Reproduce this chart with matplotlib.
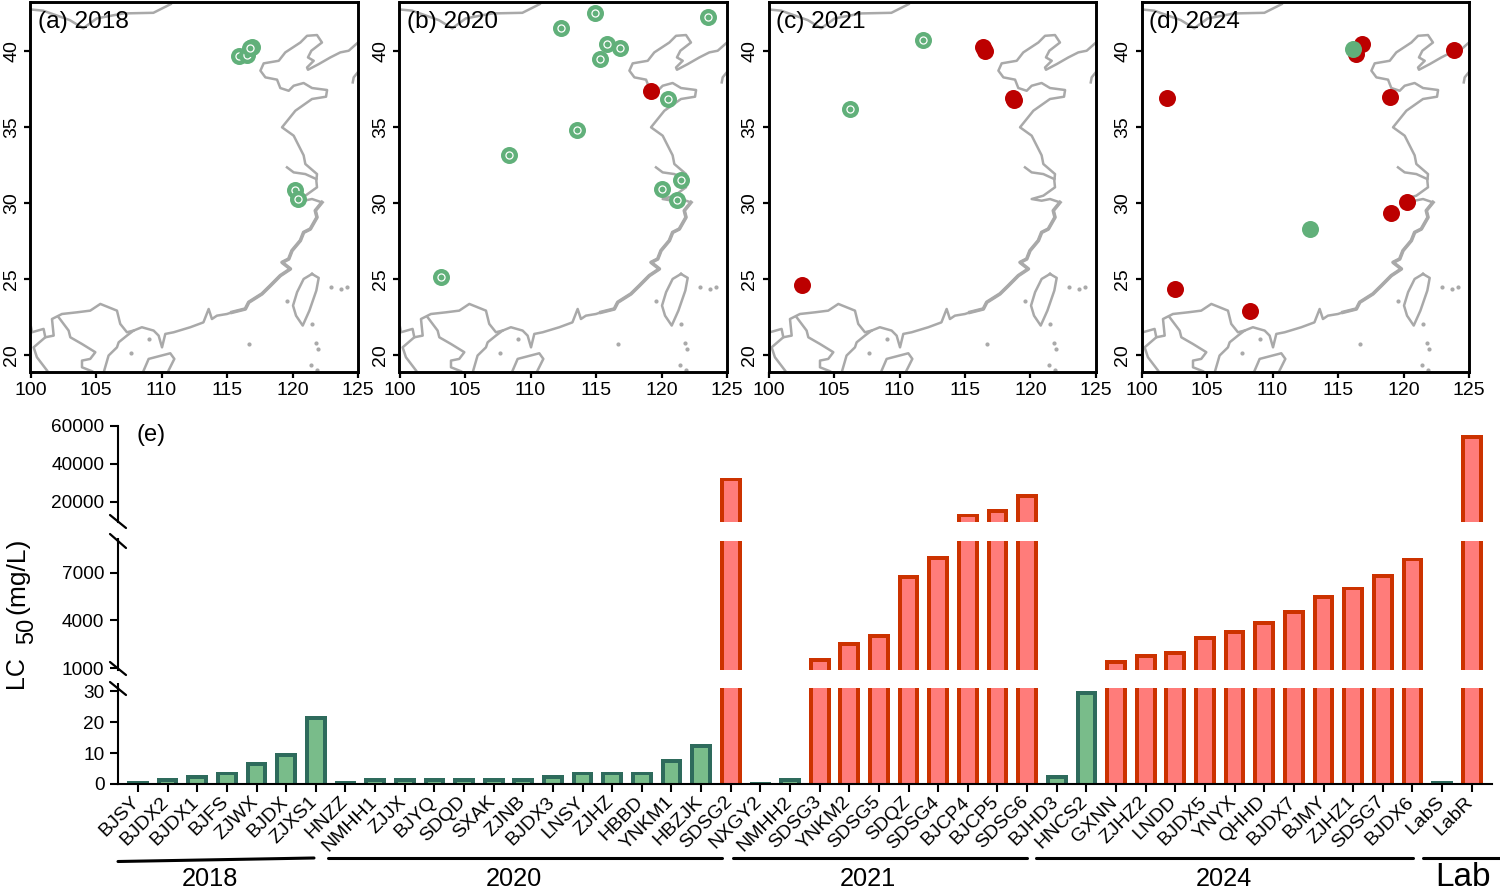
import matplotlib
matplotlib.use("Agg")
import matplotlib.pyplot as plt
from matplotlib.lines import Line2D
from matplotlib.transforms import ScaledTranslation

plt.rcParams['font.family'] = ['Liberation Sans', 'DejaVu Sans']

W = 1500
H = 889

###################################
# map data, lon / lat
###################################
coast_lon = [125.0, 124.29, 123.65, 122.89, 122.0, 121.18, 121.11, 121.62, 121.18, 121.44, 122.25, 121.87,
             121.11, 120.6, 119.45, 118.95, 117.8, 117.55, 117.93, 118.82, 119.07, 119.71, 120.09, 120.85,
             121.49, 122.64, 122.56, 121.49, 120.22, 119.2, 120.09, 120.85, 120.98, 121.87, 121.82, 121.87,
             120.98, 120.09, 120.85, 121.49, 122.25, 121.74, 121.87, 121.36, 120.85, 120.6, 119.96, 119.71,
             119.2, 119.84, 119.07, 118.31, 117.67, 116.66, 116.4, 115.38, 115.0, 114.23, 113.85, 113.6,
             113.2, 112.2, 110.93, 110.29, 110.04, 109.78, 109.4, 108.5, 107.87, 107.36, 106.73, 106.6,
             105.96, 105.63]
coast_lat = [40.54, 40.0, 39.89, 39.56, 39.12, 38.75, 38.9, 39.34, 39.56, 40.0, 40.54, 41.03,
             40.98, 40.54, 39.89, 39.34, 39.17, 38.69, 38.25, 38.1, 37.55, 37.37, 37.7, 37.88,
             37.55, 37.42, 36.98, 36.83, 36.06, 34.97, 34.42, 33.13, 32.56, 31.9, 31.46, 31.03,
             30.48, 30.26, 30.15, 30.26, 30.04, 29.5, 29.06, 28.29, 28.07, 27.53, 26.87, 26.32,
             26.1, 25.67, 25.23, 24.57, 24.03, 23.48, 23.04, 22.82, 22.71, 22.6, 22.38, 23.04,
             22.16, 21.84, 21.51, 21.4, 20.52, 21.29, 21.62, 21.84, 21.62, 21.29, 20.85, 20.52,
             19.98, 19.0]
# the rough stretch of coast, Zhejiang down to Guangdong
rough_lon = [122.25, 121.74, 121.87, 121.36, 120.85, 120.6, 119.96, 119.71, 119.2, 119.84, 119.07, 118.31, 117.67, 116.66, 116.4, 115.38]
rough_lat = [30.04, 29.5, 29.06, 28.29, 28.07, 27.53, 26.87, 26.32, 26.1, 25.67, 25.23, 24.57, 24.03, 23.48, 23.04, 22.82]
yangtze_lon = [119.58, 120.09, 120.98, 121.82]
yangtze_lat = [32.34, 32.01, 31.9, 31.57]
taiwan_lon = [121.49, 122.0, 121.82, 121.29, 120.78, 120.27, 120.04, 120.35, 120.85, 121.49]
taiwan_lat = [25.34, 25.08, 24.25, 22.93, 21.95, 22.6, 23.26, 24.14, 25.01, 25.34]
hainan_lon = [108.64, 109.02, 110.67, 110.98, 110.54]
hainan_lat = [19.0, 19.76, 20.13, 19.76, 19.0]
korea_lon = [125.0, 124.67, 124.6]
korea_lat = [38.6, 38.25, 37.92]
north_lon = [100.0, 100.97, 103.0, 104.03, 105.05, 107.08, 109.38, 110.7]
north_lat = [42.71, 42.63, 42.01, 41.47, 42.12, 42.45, 42.49, 43.06]
border_lon = [107.87, 107.36, 106.85, 106.6, 105.33, 104.56, 103.55, 102.4, 101.64, 101.77, 101.13, 101.0, 100.11, 100.04]
border_lat = [21.62, 21.51, 22.06, 22.93, 23.37, 22.93, 22.82, 22.71, 22.38, 21.29, 21.18, 21.73, 21.51, 21.84]
laos_lon = [101.13, 100.24, 100.49, 101.26]
laos_lat = [21.18, 20.52, 19.87, 19.0]
viet_lon = [102.15, 102.91, 103.04, 103.93, 104.95, 104.56, 103.93, 103.93, 104.69]
viet_lat = [22.49, 21.62, 21.18, 20.74, 20.2, 19.76, 19.65, 19.21, 18.95]
island_lon = [119.58, 122.94, 123.7, 124.16, 121.49, 116.7, 121.82, 121.95, 121.44, 121.87, 109.07, 107.7]
island_lat = [23.59, 24.49, 24.35, 24.47, 22.06, 20.75, 20.79, 20.44, 19.37, 19.0, 21.05, 20.15]

# sampling sites per year
a_green_lon = [115.95, 116.5, 116.9, 116.77, 120.2, 120.4]
a_green_lat = [39.65, 39.7, 40.26, 40.15, 30.85, 30.26]
a_red_lon = []
a_red_lat = []
b_green_lon = [114.93, 112.34, 123.56, 115.82, 116.87, 115.29, 120.5, 113.56, 108.34, 121.5, 120.0, 121.17, 103.13]
b_green_lat = [42.47, 41.51, 42.19, 40.46, 40.18, 39.47, 36.8, 34.79, 33.15, 31.51, 30.92, 30.2, 25.11]
b_red_lon = [119.18]
b_red_lat = [37.33]
c_green_lon = [111.8, 106.22]
c_green_lat = [40.72, 36.19]
c_red_lon = [116.35, 116.53, 118.65, 118.75, 102.56]
c_red_lat = [40.22, 40.0, 36.9, 36.78, 24.64]
d_red_lon = [101.96, 116.84, 116.41, 123.87, 118.98, 120.28, 119.08, 102.54, 108.27]
d_red_lat = [36.91, 40.44, 39.78, 40.04, 36.98, 30.04, 29.36, 24.33, 22.88]
d_green_lon = [116.15, 112.85]
d_green_lat = [40.11, 28.27]

###################################
# bar data
###################################
strains = ['BJSY', 'BJDX2', 'BJDX1', 'BJFS', 'ZJWX', 'BJDX', 'ZJXS1',
           'HNZZ', 'NMHH1', 'ZJJX', 'BJYQ', 'SDQD', 'SXAK', 'ZJNB', 'BJDX3', 'LNSY', 'ZJHZ', 'HBBD', 'YNKM1', 'HBZJK', 'SDSG2',
           'NXGY2', 'NMHH2', 'SDSG3', 'YNKM2', 'SDSG5', 'SDQZ', 'SDSG4', 'BJCP4', 'BJCP5', 'SDSG6',
           'BJHD3', 'HNCS2', 'GXNN', 'ZJHZ2', 'LNDD', 'BJDX5', 'YNYX', 'QHHD', 'BJDX7', 'BJMY', 'ZJHZ1', 'SDSG7', 'BJDX6',
           'LabS', 'LabR']
lc50 = [1, 2, 3, 4, 7, 10, 22,
        1, 2, 2, 2, 2, 2, 2, 3, 4, 4, 4, 8, 13, 32760,
        0.5, 2, 1610, 2660, 3120, 6880, 8050, 13860, 16330, 24040,
        3, 30, 1500, 1900, 2050, 3000, 3370, 3960, 4630, 5580, 6140, 6940, 7970,
        1, 55170]
resistant_cut = 1000

GREEN_MAP = '#61B07A'
RED_MAP = '#BC0000'
GREY = '#A9A9A9'
GREEN_FILL = '#79BC8A'
GREEN_EDGE = '#2E6B5C'
RED_FILL = '#FF7C7A'
RED_EDGE = '#CC3200'


def add_axes_px(left, top, right, bottom):
    return fig.add_axes([left / W, 1 - bottom / H, (right - left) / W, (bottom - top) / H])


def fig_line(x0, y0, x1, y1, lw=2.0, color='black', cap='round'):
    fig.add_artist(Line2D([x0 / W, x1 / W], [1 - y0 / H, 1 - y1 / H], color=color, lw=lw,
                          solid_capstyle=cap, transform=fig.transFigure))


def fig_text(x, y, s, **kw):
    fig.text(x / W, 1 - y / H, s, ha='center', va='center', **kw)


def make_map(left, title, green_lon, green_lat, red_lon, red_lat, ring=True, red_first=False):
    ax = add_axes_px(left, 2, left + 327.5, 372)
    ax.set_xlim(100, 125)
    ax.set_ylim(18.9, 43.2)
    for xs, ys in [(coast_lon, coast_lat), (yangtze_lon, yangtze_lat), (taiwan_lon, taiwan_lat),
                   (hainan_lon, hainan_lat), (korea_lon, korea_lat), (north_lon, north_lat),
                   (border_lon, border_lat), (laos_lon, laos_lat), (viet_lon, viet_lat)]:
        ax.plot(xs, ys, color=GREY, lw=1.8, solid_joinstyle='round', zorder=1)
    ax.plot(rough_lon, rough_lat, color=GREY, lw=2.6, solid_joinstyle='round', zorder=1)
    ax.plot(island_lon, island_lat, ls='none', marker='o', ms=2, color=GREY, zorder=1)

    green_z = 4 if red_first else 2
    for lon, lat in zip(green_lon, green_lat):
        ax.scatter(lon, lat, s=150, color=GREEN_MAP, linewidths=0, zorder=green_z)
        if ring:
            ax.scatter(lon, lat, s=26, color=GREEN_MAP, edgecolors='white', linewidths=0.9, zorder=green_z)
    ax.scatter(red_lon, red_lat, s=150, color=RED_MAP, linewidths=0, zorder=3)

    ax.set_xticks([100, 105, 110, 115, 120, 125])
    ax.set_yticks([20, 25, 30, 35, 40])
    ax.tick_params(axis='x', labelsize=14, length=4.5, width=1.6, pad=3)
    ax.tick_params(axis='y', labelsize=14, length=4.5, width=1.6, pad=3, labelrotation=90)
    for lab in ax.get_yticklabels():
        lab.set_va('center')
    for sp in ax.spines.values():
        sp.set_linewidth(2.1)
    ax.text(0.024, 0.946, title, transform=ax.transAxes, fontsize=17.6, ha='left', va='center', zorder=5)
    return ax


fig = plt.figure(figsize=(W / 100, H / 100), dpi=100)

make_map(30.5, '(a) 2018', a_green_lon, a_green_lat, a_red_lon, a_red_lat)
make_map(399.5, '(b) 2020', b_green_lon, b_green_lat, b_red_lon, b_red_lat)
make_map(768.5, '(c) 2021', c_green_lon, c_green_lat, c_red_lon, c_red_lat)
make_map(1141.5, '(d) 2024', d_green_lon, d_green_lat, d_red_lon, d_red_lat, ring=False, red_first=True)

###############################
# broken bar panel
###############################
AX_L = 118
AX_R = 1492
SPACING = (1471.7 - 138) / 45
xlim = (-(138 - AX_L) / SPACING, 45 + (AX_R - 1471.7) / SPACING)
positions = list(range(len(strains)))

ax_low = add_axes_px(AX_L, 688, AX_R, 784)
ax_mid = add_axes_px(AX_L, 541, AX_R, 669.7)
ax_top = add_axes_px(AX_L, 425.7, AX_R, 521.7)
ax_low.set_ylim(0, 31)
ax_mid.set_ylim(893, 9015)
ax_top.set_ylim(9660, 60000)

outer_w = 21.7 / SPACING
inner_w = 13.7 / SPACING
for ax, bottom_px, top_px in [(ax_low, 784, 688), (ax_mid, 669.7, 541), (ax_top, 521.7, 425.7)]:
    ax.set_xlim(*xlim)
    ax.patch.set_alpha(0)
    lo, hi = ax.get_ylim()
    edge = 3.8 * (hi - lo) / (bottom_px - top_px)
    for x, v in zip(positions, lc50):
        fill = RED_FILL if v > resistant_cut else GREEN_FILL
        line = RED_EDGE if v > resistant_cut else GREEN_EDGE
        ax.bar(x, v, width=outer_w, color=line, linewidth=0)
        if v > edge:
            ax.bar(x, v - edge, width=inner_w, color=fill, linewidth=0)
    for side in ['top', 'right']:
        ax.spines[side].set_visible(False)
    ax.spines['left'].set_linewidth(1.5)
    ax.tick_params(axis='y', labelsize=13.7, length=5.8, width=1.5, pad=4)

ax_low.set_yticks([0, 10, 20, 30])
ax_mid.set_yticks([1000, 4000, 7000])
ax_top.set_yticks([20000, 40000, 60000])
for ax in [ax_mid, ax_top]:
    ax.spines['bottom'].set_visible(False)
    ax.set_xticks([])

ax_low.spines['bottom'].set_linewidth(1.5)
ax_low.set_xticks(positions)
ax_low.set_xticklabels(strains, rotation=45, ha='right', va='top', rotation_mode='anchor', fontsize=14)
ax_low.tick_params(axis='x', length=5.5, width=1.5, pad=2)
shift = ScaledTranslation(-7 / 100, 1 / 100, fig.dpi_scale_trans)
for lab in ax_low.get_xticklabels():
    lab.set_transform(lab.get_transform() + shift)

# break marks on the y axis, with the short spine stubs next to them
for y0, y1 in [(515, 528), (534, 548), (662, 675), (682, 695)]:
    fig_line(110, y0, 126, y1, lw=1.6)
fig_line(AX_L, 538, AX_L, 542, lw=1.5, cap='butt')
fig_line(AX_L, 683, AX_L, 689, lw=1.5, cap='butt')

fig_text(151, 435, '(e)', fontsize=17)
fig_text(16, 672, 'LC', fontsize=18, rotation=90)
fig_text(27, 631, '50', fontsize=17, rotation=90)
fig_text(17, 576, '(mg/L)', fontsize=19, rotation=90)

# year groups under the strain names
fig_line(118, 861.5, 314, 858, lw=2.2)
fig_line(328, 858, 721.7, 858, lw=2.2)
fig_line(733, 858, 1026.7, 858, lw=2.2)
fig_line(1036, 858, 1412.7, 858, lw=2.2)
fig_line(1422.7, 858, 1500, 858, lw=2.2)
fig_text(210, 879, '2018', fontsize=18.3)
fig_text(514, 879, '2020', fontsize=18.3)
fig_text(868, 879, '2021', fontsize=18.3)
fig_text(1224, 879, '2024', fontsize=18.3)
fig_text(1463, 877, 'Lab', fontsize=24)

fig.savefig('out.png', dpi=100)
